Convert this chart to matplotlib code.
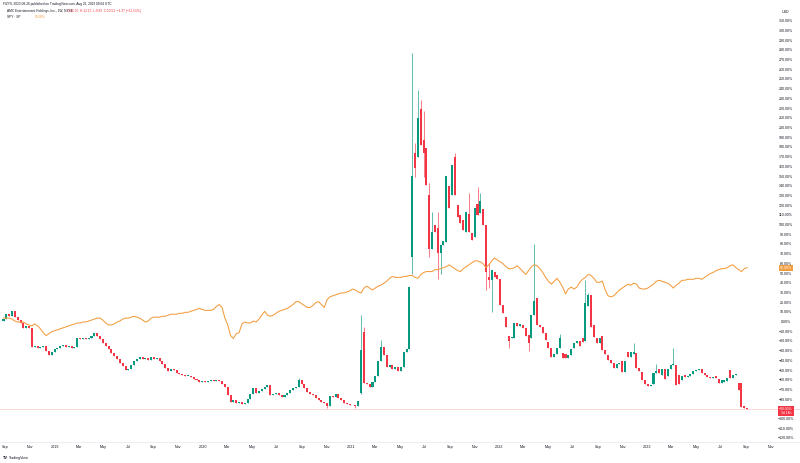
import matplotlib.pyplot as plt
import matplotlib.dates as mdates
import matplotlib.transforms as mtransforms
import pandas as pd

plt.rcParams['font.family'] = ['Liberation Sans', 'DejaVu Sans']

# AMC weekly candles, % change against the first bar
amc_close = [
    3, 8, 6, 11, 5, 2, -1, -6, -4, -6,
    -26, -25, -27, -26, -25, -30, -34, -31, -28, -27,
    -25, -24, -26, -25, -27, -26, -16, -18, -17, -18,
    -16, -14, -11, -14, -18, -22, -25, -28, -32, -35,
    -38, -42, -45, -49, -48, -44, -40, -38, -36, -38,
    -37, -39, -36, -38, -37, -40, -43, -47, -50, -48,
    -49, -53, -54, -55, -56, -56, -57, -59, -60, -62,
    -61, -62, -61, -60, -61, -60, -61, -64, -67, -75,
    -82, -80, -84, -82, -85, -83, -79, -74, -68, -73,
    -71, -69, -67, -65, -75, -74, -73, -75, -77, -75,
    -73, -70, -68, -67, -60, -64, -68, -72, -74, -75,
    -78, -80, -82, -84, -87, -76, -77, -74, -78, -80,
    -83, -85, -86, -86, -87, -81, -29, -63, -64, -67,
    -62, -56, -40, -26, -34, -46, -44, -48, -46, -50,
    -46, -31, -28, 36, 151, 159, 210, 182, 174, 141,
    75, 93, 93, 71, 79, 84, 151, 118, 162, 131,
    108, 102, 95, 113, 93, 85, 118, 110, 125, 100,
    52, 43, 54, 46, 44, 18, 9, -5, -20, -15,
    -1, -4, -2, -6, -14, -22, 7, 22, -3, -5,
    -11, -19, -27, -36, -33, -27, -17, -37, -37, -34,
    -28, -22, -20, -25, -21, 20, 28, -5, -15, -22,
    -17, -29, -33, -39, -42, -47, -43, -42, -52, -40,
    -36, -31, -31, -47, -50, -60, -64, -66, -65, -53,
    -50, -53, -48, -59, -48, -44, -44, -65, -64, -56,
    -57, -56, -54, -51, -49, -48, -53, -55, -57, -58,
    -57, -58, -63, -60, -60, -58, -58, -55, -54, -70,
    -88, -89, -90,
]
amc_first_open = 1
# weeks whose open gapped away from the prior close
amc_open_gaps = {
    126: -73, 127: -10, 144: 67, 145: 174, 146: 170, 147: 220, 148: 188,
    149: 179, 150: 131, 152: 100, 153: 97, 156: 82, 157: 140, 158: 131,
    159: 170, 160: 121, 161: 110, 162: 105, 163: 93, 164: 111, 165: 92,
    166: 88, 167: 122, 168: 112, 169: 117, 170: 100, 171: 46, 173: 52,
    174: 48, 177: 5, 178: -14, 179: -17, 180: -16, 183: -3, 185: -13,
    186: -17, 188: 25, 192: -21, 197: -32, 198: -33, 201: -27, 204: -16,
    205: -20, 206: 16, 207: 28, 208: -3, 209: -17, 210: -22, 211: -14,
    213: -34, 218: -40, 219: -52, 220: -31, 222: -33, 223: -32, 225: -52,
    229: -64, 231: -48, 232: -55, 233: -48, 234: -56, 237: -44, 238: -55,
    239: -60, 240: -55, 251: -56, 252: -59, 254: -62, 255: -61, 256: -49,
    259: -63, 260: -63, 261: -87, 262: -89,
}
amc_high_wicks = {
    104: -58, 126: 7, 127: -5, 133: -19, 144: 277, 145: 185, 146: 239,
    147: 229, 148: 218, 150: 143, 151: 113, 153: 113, 159: 174, 164: 133,
    167: 139, 168: 133, 171: 61, 187: 80, 196: -12, 205: 43, 206: 30,
    222: -22, 230: -43, 236: -27,
}
amc_low_wicks = {
    114: -89, 124: -89, 126: -74, 144: 50, 145: 150, 148: 150, 150: 67,
    153: 44, 154: 50, 170: 33, 171: 35, 172: 10, 178: -27, 185: -30,
}

# SPY comparison line, % change
spy_pct = [
    4, 4, 4, 3, 1, 0, 0, 0, -2, -3,
    -4, -2, -4, -7, -11, -14, -12, -10, -9, -8,
    -7, -6, -5, -4, -3, -2, -1, -1, 0, 0,
    1, 2, 3, 4, 4, 2, -1, -3, -3, -2,
    0, 1, 3, 4, 4, 5, 6, 5, 4, 2,
    0, 1, 4, 5, 5, 5, 6, 6, 7, 8,
    8, 8, 9, 9, 10, 10, 11, 12, 13, 14,
    13, 12, 12, 12, 13, 16, 18, 15, 4, -3,
    -14, -17, -12, -11, -2, 0, -1, -1, 1, 0,
    3, 7, 11, 7, 6, 7, 9, 11, 12, 13,
    14, 16, 18, 21, 21, 19, 17, 15, 15, 17,
    20, 21, 18, 15, 23, 26, 27, 28, 29, 30,
    30, 31, 32, 34, 33, 31, 30, 35, 37, 35,
    33, 35, 37, 38, 40, 42, 45, 47, 46, 46,
    46, 47, 47, 48, 48, 46, 45, 49, 51, 52,
    52, 52, 54, 54, 55, 56, 57, 59, 57, 55,
    53, 52, 55, 57, 59, 61, 63, 63, 62, 60,
    56, 59, 63, 66, 64, 62, 60, 57, 55, 55,
    56, 58, 55, 52, 49, 53, 57, 59, 58, 55,
    51, 46, 42, 39, 42, 45, 41, 36, 29, 34,
    36, 34, 36, 41, 44, 46, 49, 48, 45, 41,
    41, 42, 33, 27, 26, 27, 30, 33, 35, 37,
    39, 38, 40, 39, 35, 34, 34, 35, 37, 39,
    42, 43, 42, 41, 40, 38, 35, 38, 40, 43,
    43, 44, 44, 44, 45, 45, 44, 46, 48, 50,
    51, 53, 54, 55, 55, 56, 58, 59, 56, 54,
    52, 55, 56,
]

time_ticks = ['2018-09-01', '2018-11-01', '2019-01-01', '2019-03-01', '2019-05-01',
              '2019-07-01', '2019-09-01', '2019-11-01', '2020-01-01', '2020-03-01',
              '2020-05-01', '2020-07-01', '2020-09-01', '2020-11-01', '2021-01-01',
              '2021-03-01', '2021-05-01', '2021-07-01', '2021-09-01', '2021-11-01',
              '2022-01-01', '2022-03-01', '2022-05-01', '2022-07-01', '2022-09-01',
              '2022-11-01', '2023-01-01', '2023-03-01', '2023-05-01', '2023-07-01',
              '2023-09-01', '2023-11-01']
time_labels = ['Sep', 'Nov', '2019', 'Mar', 'May', 'Jul', 'Sep', 'Nov', '2020', 'Mar',
               'May', 'Jul', 'Sep', 'Nov', '2021', 'Mar', 'May', 'Jul', 'Sep', 'Nov',
               '2022', 'Mar', 'May', 'Jul', 'Sep', 'Nov', '2023', 'Mar', 'May', 'Jul',
               'Sep', 'Nov']
pct_ticks = list(range(310, -130, -10))

assert len(spy_pct) == len(amc_close)
weeks = pd.date_range('2018-08-27', periods=len(amc_close), freq='7D')

opens = [amc_first_open] + amc_close[:-1]
for k, v in amc_open_gaps.items():
    opens[k] = v
highs = [max(o, c) for o, c in zip(opens, amc_close)]
lows = [min(o, c) for o, c in zip(opens, amc_close)]
for k, v in amc_high_wicks.items():
    highs[k] = v
for k, v in amc_low_wicks.items():
    lows[k] = v

up, down = '#089981', '#f23645'
spy_color = '#f39c3d'
txt = '#131722'

fig = plt.figure(figsize=(8, 4.63), dpi=100)
ax = fig.add_axes([0, 21 / 463, 1, 437 / 463])

colors = [up if c >= o else down for o, c in zip(opens, amc_close)]
bottoms = [min(o, c) for o, c in zip(opens, amc_close)]
heights = [max(abs(c - o), 0.9) for o, c in zip(opens, amc_close)]
ax.axhline(amc_close[-1], color='#f8c4c9', lw=0.5, zorder=1)
ax.vlines(weeks, lows, highs, colors=colors, lw=0.45, zorder=2)
ax.bar(weeks, heights, bottom=bottoms, width=5, color=colors, linewidth=0, zorder=3)
ax.plot(weeks, spy_pct, color=spy_color, lw=0.75, zorder=4)

# time scale: 148 px per year, 2019-01-01 sits at x=55 px
jan19 = mdates.date2num(pd.Timestamp('2019-01-01'))
px_day = 148 / 365
ax.set_xlim(jan19 - 55 / px_day, jan19 + 745 / px_day)
ax.set_ylim(-123.7, 326.8)

ax.set_xticks([mdates.date2num(pd.Timestamp(d)) for d in time_ticks])
ax.set_xticklabels(time_labels, fontsize=2.7, color=txt)
ax.tick_params(axis='x', length=0, pad=2.5)
ax.set_yticks([])
for s in ['top', 'left', 'right']:
    ax.spines[s].set_visible(False)
ax.spines['bottom'].set_color('#e6e7ea')
ax.spines['bottom'].set_linewidth(0.5)

# price scale (percent) on the right; the red last-price tag hides the tick under it
trans = mtransforms.blended_transform_factory(ax.transAxes, ax.transData)
for p in pct_ticks:
    if abs(p - amc_close[-1]) < 6:
        continue
    lab = f"{p:.2f}%".replace('-', '\u2212')
    ax.text(786 / 800, p, lab, transform=trans, ha='center', va='center',
            fontsize=2.6, color=txt)
fig.text(786 / 800, 1 - 12 / 463, 'USD', ha='center', va='center', fontsize=2.6, color=txt)

spy_lab = f"{spy_pct[-1]:.2f}%"
ax.text(786 / 800, spy_pct[-1], spy_lab, transform=trans, ha='center', va='center',
        fontsize=2.6, color='white', zorder=6,
        bbox=dict(boxstyle='square,pad=0.3', fc=spy_color, ec='none'))
amc_lab = f"{amc_close[-1]:.2f}%".replace('-', '\u2212') + "\n3d 14h"
ax.text(786 / 800, amc_close[-1] - 2, amc_lab, transform=trans, ha='center', va='center',
        fontsize=2.4, color='white', zorder=6, linespacing=1.1,
        bbox=dict(boxstyle='square,pad=0.3', fc=down, ec='none'))

# header
fig.text(3 / 800, 1 - 4.5 / 463,
         'FIZY0, 2023-08-26 published on TradingView.com, Aug 26, 2023 09:04 UTC',
         fontsize=2.3, color=txt, va='center')
fig.text(7 / 800, 1 - 11 / 463, 'AMC Entertainment Holdings, Inc., 1W, NYSE',
         fontsize=2.3, color=txt, va='center')
fig.text(67 / 800, 1 - 11 / 463, 'O:11.90  H:12.15  L:9.83  C:10.53  \u22121.37 (\u221211.51%)',
         fontsize=2.3, color=down, va='center')
fig.text(7 / 800, 1 - 17 / 463, 'SPY \u00b7 SP', fontsize=2.3, color=txt, va='center')
fig.text(35 / 800, 1 - 17 / 463, spy_lab, fontsize=2.3, color=spy_color, va='center')

# footer logo
fig.text(3 / 800, 1 - 458 / 463, 'TV', fontsize=2.8, fontweight='bold', color=txt, va='center')
fig.text(9 / 800, 1 - 458 / 463, 'TradingView', fontsize=2.6, color=txt, va='center')

plt.savefig('out.png', dpi=100)
